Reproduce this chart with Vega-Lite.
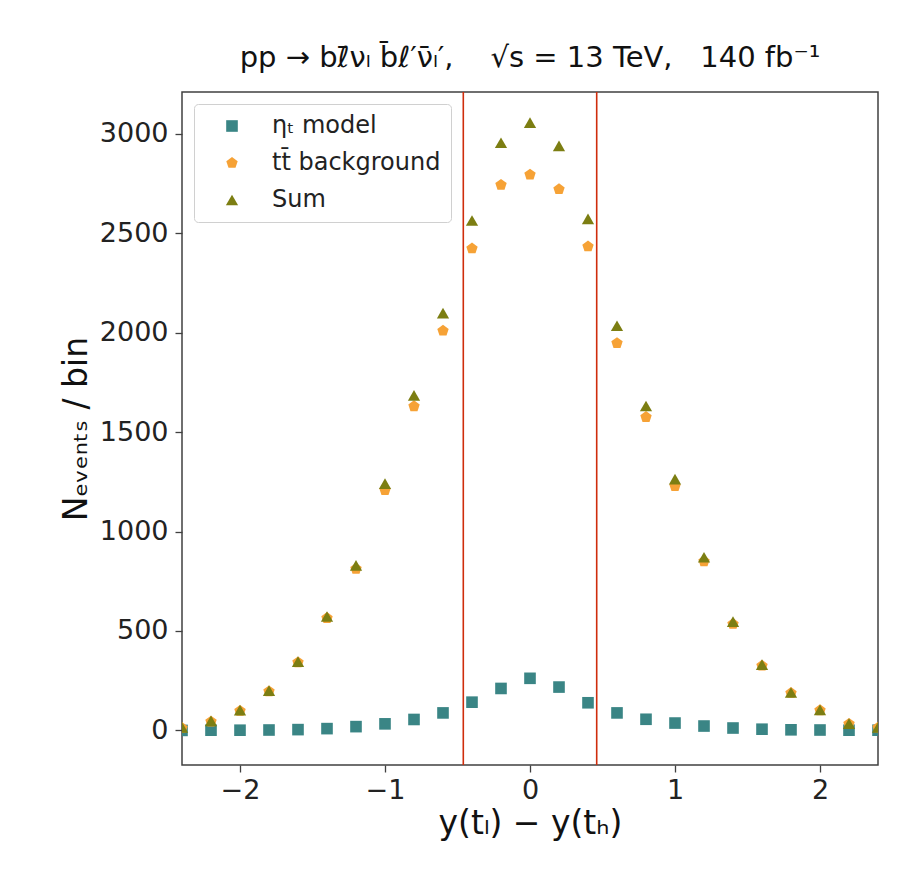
{
  "$schema": "https://vega.github.io/schema/vega-lite/v6.json",
  "width": 696,
  "height": 673,
  "autosize": {"type": "none"},
  "padding": {"left": 182, "top": 92, "right": 45, "bottom": 112},
  "background": "#ffffff",
  "title": {
    "text": "pp → bℓ̄νₗ b̄ℓ′ν̄ₗ′,\u00a0\u00a0\u00a0\u00a0√s = 13 TeV,\u00a0\u00a0\u00a0140 fb⁻¹",
    "font": "DejaVu Sans",
    "fontSize": 29,
    "fontWeight": "normal",
    "color": "#111111",
    "anchor": "middle",
    "offset": 18
  },
  "config": {
    "view": {"stroke": "#404040", "strokeWidth": 1.5},
    "axis": {
      "domain": false,
      "grid": false,
      "labelFont": "DejaVu Sans",
      "labelFontSize": 27,
      "labelColor": "#222222",
      "titleFont": "DejaVu Sans",
      "titleFontSize": 33,
      "titleFontWeight": "normal",
      "titleColor": "#111111",
      "tickColor": "#404040",
      "tickSize": 7,
      "tickWidth": 1.3
    }
  },
  "datasets": {
    "points": [
      {"x": -2.4, "series": "ηₜ model", "n": 0},
      {"x": -2.2, "series": "ηₜ model", "n": 1},
      {"x": -2.0, "series": "ηₜ model", "n": 1},
      {"x": -1.8, "series": "ηₜ model", "n": 2},
      {"x": -1.6, "series": "ηₜ model", "n": 4},
      {"x": -1.4, "series": "ηₜ model", "n": 9},
      {"x": -1.2, "series": "ηₜ model", "n": 19},
      {"x": -1.0, "series": "ηₜ model", "n": 33},
      {"x": -0.8, "series": "ηₜ model", "n": 55},
      {"x": -0.6, "series": "ηₜ model", "n": 88},
      {"x": -0.4, "series": "ηₜ model", "n": 142},
      {"x": -0.2, "series": "ηₜ model", "n": 211},
      {"x": 0.0, "series": "ηₜ model", "n": 262},
      {"x": 0.2, "series": "ηₜ model", "n": 218},
      {"x": 0.4, "series": "ηₜ model", "n": 139},
      {"x": 0.6, "series": "ηₜ model", "n": 88},
      {"x": 0.8, "series": "ηₜ model", "n": 56},
      {"x": 1.0, "series": "ηₜ model", "n": 37},
      {"x": 1.2, "series": "ηₜ model", "n": 22},
      {"x": 1.4, "series": "ηₜ model", "n": 12},
      {"x": 1.6, "series": "ηₜ model", "n": 6},
      {"x": 1.8, "series": "ηₜ model", "n": 3},
      {"x": 2.0, "series": "ηₜ model", "n": 2},
      {"x": 2.2, "series": "ηₜ model", "n": 1},
      {"x": 2.4, "series": "ηₜ model", "n": 1},
      {"x": -2.4, "series": "tt̄ background", "n": 12},
      {"x": -2.2, "series": "tt̄ background", "n": 44},
      {"x": -2.0, "series": "tt̄ background", "n": 98},
      {"x": -1.8, "series": "tt̄ background", "n": 196},
      {"x": -1.6, "series": "tt̄ background", "n": 342},
      {"x": -1.4, "series": "tt̄ background", "n": 565},
      {"x": -1.2, "series": "tt̄ background", "n": 812},
      {"x": -1.0, "series": "tt̄ background", "n": 1208},
      {"x": -0.8, "series": "tt̄ background", "n": 1630},
      {"x": -0.6, "series": "tt̄ background", "n": 2010},
      {"x": -0.4, "series": "tt̄ background", "n": 2424},
      {"x": -0.2, "series": "tt̄ background", "n": 2744},
      {"x": 0.0, "series": "tt̄ background", "n": 2795},
      {"x": 0.2, "series": "tt̄ background", "n": 2722},
      {"x": 0.4, "series": "tt̄ background", "n": 2434},
      {"x": 0.6, "series": "tt̄ background", "n": 1948},
      {"x": 0.8, "series": "tt̄ background", "n": 1576},
      {"x": 1.0, "series": "tt̄ background", "n": 1228},
      {"x": 1.2, "series": "tt̄ background", "n": 850},
      {"x": 1.4, "series": "tt̄ background", "n": 535},
      {"x": 1.6, "series": "tt̄ background", "n": 325},
      {"x": 1.8, "series": "tt̄ background", "n": 188},
      {"x": 2.0, "series": "tt̄ background", "n": 101},
      {"x": 2.2, "series": "tt̄ background", "n": 33},
      {"x": 2.4, "series": "tt̄ background", "n": 14},
      {"x": -2.4, "series": "Sum", "n": 15},
      {"x": -2.2, "series": "Sum", "n": 48},
      {"x": -2.0, "series": "Sum", "n": 102},
      {"x": -1.8, "series": "Sum", "n": 200},
      {"x": -1.6, "series": "Sum", "n": 346},
      {"x": -1.4, "series": "Sum", "n": 573},
      {"x": -1.2, "series": "Sum", "n": 830},
      {"x": -1.0, "series": "Sum", "n": 1241},
      {"x": -0.8, "series": "Sum", "n": 1685},
      {"x": -0.6, "series": "Sum", "n": 2099},
      {"x": -0.4, "series": "Sum", "n": 2565},
      {"x": -0.2, "series": "Sum", "n": 2956},
      {"x": 0.0, "series": "Sum", "n": 3057},
      {"x": 0.2, "series": "Sum", "n": 2940},
      {"x": 0.4, "series": "Sum", "n": 2573},
      {"x": 0.6, "series": "Sum", "n": 2035},
      {"x": 0.8, "series": "Sum", "n": 1632},
      {"x": 1.0, "series": "Sum", "n": 1264},
      {"x": 1.2, "series": "Sum", "n": 871},
      {"x": 1.4, "series": "Sum", "n": 547},
      {"x": 1.6, "series": "Sum", "n": 331},
      {"x": 1.8, "series": "Sum", "n": 191},
      {"x": 2.0, "series": "Sum", "n": 103},
      {"x": 2.2, "series": "Sum", "n": 34},
      {"x": 2.4, "series": "Sum", "n": 15}
    ],
    "cuts": [{"x": -0.46}, {"x": 0.46}]
  },
  "layer": [
    {
      "data": {"name": "cuts"},
      "mark": {"type": "rule", "color": "#cf2d0c", "strokeWidth": 1.6},
      "encoding": {
        "x": {"field": "x", "type": "quantitative", "scale": {"domain": [-2.4, 2.4], "nice": false, "zero": false}}
      }
    },
    {
      "data": {"name": "points"},
      "mark": {"type": "point", "filled": true, "opacity": 1, "clip": true},
      "encoding": {
        "x": {
          "field": "x", "type": "quantitative",
          "scale": {"domain": [-2.4, 2.4], "nice": false, "zero": false},
          "axis": {"values": [-2, -1, 0, 1, 2], "format": "d", "title": "y(tₗ) − y(tₕ)", "labelPadding": 5, "titlePadding": 4}
        },
        "y": {
          "field": "n", "type": "quantitative",
          "scale": {"domain": [-174, 3211], "nice": false, "zero": false},
          "axis": {"values": [0, 500, 1000, 1500, 2000, 2500, 3000], "format": "d", "title": "Nₑᵥₑₙₜₛ / bin", "labelPadding": 7, "titlePadding": 6}
        },
        "color": {
          "field": "series", "type": "nominal",
          "scale": {"domain": ["ηₜ model", "tt̄ background", "Sum"], "range": ["#3a8585", "#f6a236", "#7c7e12"]},
          "legend": {
            "title": null,
            "orient": "top-left",
            "offset": 12,
            "padding": 10,
            "symbolOffset": 16,
            "labelOffset": 28,
            "labelFont": "DejaVu Sans",
            "labelFontSize": 24,
            "labelLimit": 400,
            "labelColor": "#222222",
            "rowPadding": 13,
            "symbolSize": 70,
            "strokeColor": "#d0d0d0",
            "fillColor": "#ffffff",
            "cornerRadius": 4
          }
        },
        "shape": {
          "field": "series", "type": "nominal",
          "scale": {"domain": ["ηₜ model", "tt̄ background", "Sum"], "range": ["square", "M0,-1L0.951,-0.309L0.588,0.809L-0.588,0.809L-0.951,-0.309Z", "triangle-up"]},
          "legend": null
        },
        "size": {
          "field": "series", "type": "nominal",
          "scale": {"domain": ["ηₜ model", "tt̄ background", "Sum"], "range": [135, 150, 125]},
          "legend": null
        }
      }
    }
  ]
}
